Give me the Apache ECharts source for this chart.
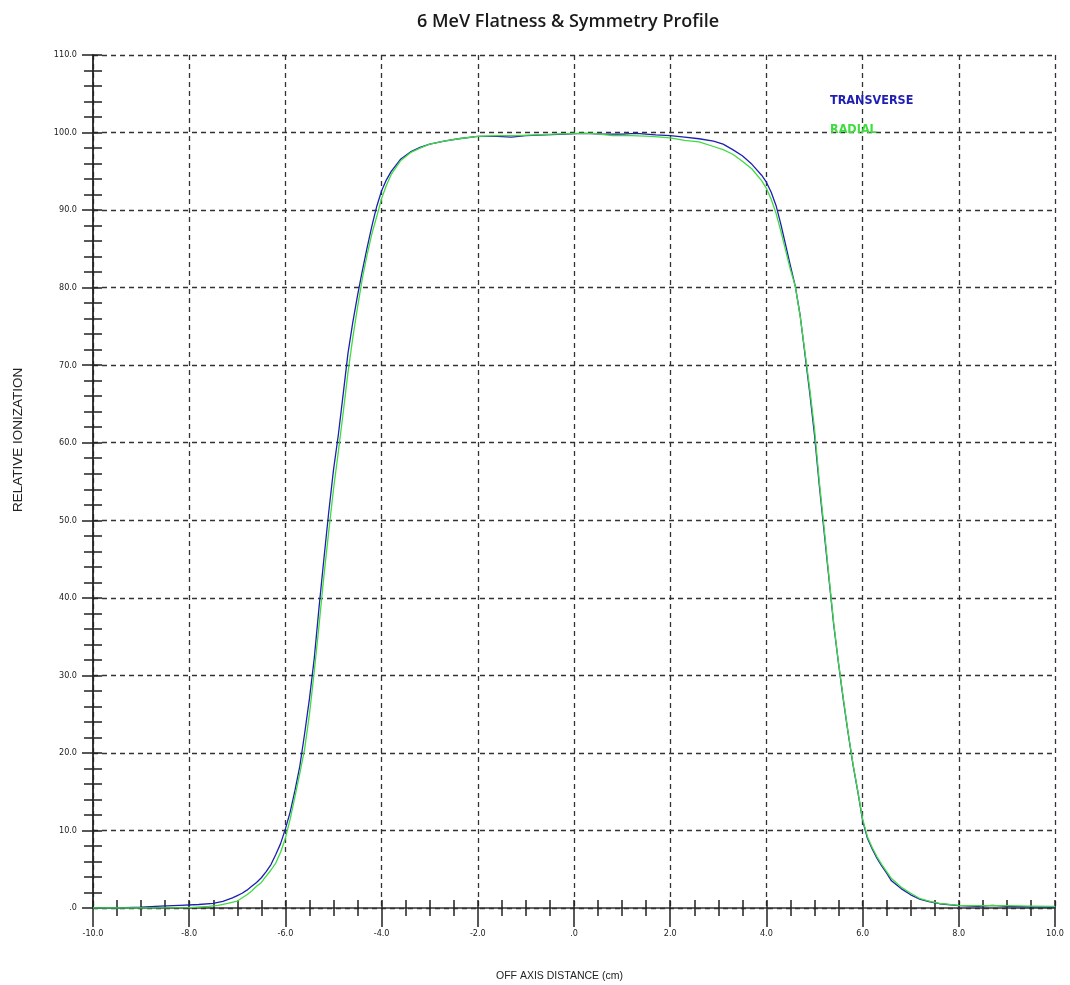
<!DOCTYPE html>
<html>
<head>
<meta charset="utf-8">
<script src="https://cdn.jsdelivr.net/npm/echarts@6/dist/echarts.min.js"></script>
<style>
html,body{margin:0;padding:0;background:#fff;}
#chart{width:1070px;height:985px;}
</style>
</head>
<body>
<div id="chart"></div>
<script>
// ---- Data ----
const chartTitle = '6 MeV Flatness & Symmetry Profile';
const xAxisTitle = 'OFF AXIS DISTANCE (cm)';
const yAxisTitle = 'RELATIVE IONIZATION';
const seriesNames = ['TRANSVERSE', 'RADIAL'];

const transverseX = [-10.0,-9.5,-9.0,-8.6,-8.2,-7.8,-7.5,-7.3,-7.1,-7.0,-6.9,-6.8,-6.7,-6.6,-6.5,-6.4,-6.3,-6.2,-6.1,-6.0,
  -5.9,-5.8,-5.7,-5.6,-5.5,-5.4,-5.3,-5.2,-5.1,-5.0,-4.9,-4.8,-4.7,-4.6,-4.5,-4.4,-4.3,-4.2,-4.1,-4.0,
  -3.9,-3.8,-3.6,-3.4,-3.2,-3.0,-2.7,-2.4,-2.0,-1.6,-1.3,-1.0,-0.6,-0.2,0.2,0.6,1.0,1.3,1.7,2.0,
  2.3,2.6,2.9,3.1,3.3,3.5,3.7,3.9,4.0,4.1,4.2,4.3,4.4,4.5,4.6,4.7,4.8,4.9,5.0,5.1,
  5.2,5.3,5.4,5.5,5.6,5.7,5.8,5.9,6.0,6.1,6.2,6.3,6.4,6.5,6.6,6.8,7.0,7.2,7.4,7.6,
  8.0,8.4,8.7,9.0,9.5,10.0];
const transverseY = [0.0,0.0,0.1,0.25,0.35,0.45,0.6,0.85,1.3,1.6,1.9,2.3,2.8,3.3,3.9,4.7,5.6,6.9,8.3,10.2,
  12.4,15.2,18.3,22.5,27.0,32.2,38.8,45.0,51.0,56.5,61.0,66.2,71.5,75.5,79.0,82.2,85.2,88.0,90.5,92.5,
  93.9,95.0,96.6,97.5,98.1,98.5,98.9,99.2,99.5,99.5,99.4,99.6,99.7,99.8,99.9,99.8,99.8,99.9,99.7,99.6,
  99.4,99.2,98.9,98.5,97.8,97.0,95.9,94.5,93.6,92.3,90.6,88.2,85.5,82.8,80.2,76.5,71.5,66.5,61.0,54.5,
  48.5,42.5,36.5,31.5,26.8,22.5,18.5,15.0,11.3,9.0,7.6,6.4,5.4,4.5,3.5,2.5,1.7,1.1,0.8,0.55,
  0.3,0.2,0.35,0.2,0.15,0.1];

const radialX = [-10.0,-9.0,-8.0,-7.6,-7.4,-7.2,-7.0,-6.8,-6.7,-6.6,-6.5,-6.4,-6.3,-6.2,-6.1,-6.0,
  -5.9,-5.8,-5.7,-5.6,-5.5,-5.4,-5.3,-5.2,-5.1,-5.0,-4.9,-4.8,-4.7,-4.6,-4.5,-4.4,-4.3,-4.2,-4.1,-4.0,
  -3.9,-3.8,-3.6,-3.4,-3.2,-3.0,-2.7,-2.4,-2.0,-1.6,-1.2,-0.8,-0.4,0.0,0.4,0.8,1.2,1.6,2.0,
  2.3,2.6,2.9,3.1,3.3,3.5,3.7,3.9,4.0,4.1,4.2,4.3,4.4,4.5,4.6,4.7,4.8,4.9,5.0,5.1,
  5.2,5.3,5.4,5.5,5.6,5.7,5.8,5.9,6.0,6.1,6.2,6.3,6.4,6.5,6.6,6.8,7.0,7.2,7.4,7.6,
  8.0,8.5,9.0,9.5,10.0];
const radialY = [0.0,0.0,0.05,0.2,0.35,0.6,0.9,1.7,2.2,2.8,3.3,4.1,4.9,5.8,7.2,9.0,
  11.5,14.4,17.4,20.5,25.0,30.5,36.5,42.8,48.5,54.0,58.8,63.8,69.0,73.5,77.5,81.2,84.3,87.0,89.2,91.5,
  93.2,94.6,96.4,97.4,98.0,98.5,98.9,99.2,99.5,99.6,99.6,99.7,99.8,99.9,99.9,99.6,99.6,99.5,99.3,
  99.0,98.8,98.2,97.8,97.2,96.3,95.3,93.8,92.8,91.4,89.6,87.3,84.8,82.3,80.2,76.4,71.8,67.0,61.8,55.0,
  49.0,42.8,36.7,31.6,27.0,22.6,18.6,15.1,11.5,9.2,7.8,6.6,5.6,4.7,3.8,2.7,1.9,1.2,0.85,0.6,
  0.35,0.3,0.3,0.25,0.2];

const xMin = -10, xMax = 10, xMajor = 2, xMinor = 0.5;
const yMin = 0, yMax = 110, yMajor = 10, yMinorStep = 2;

// ---- Chart ----
const pair = (xs, ys) => xs.map((x, i) => [x, ys[i]]);
const fmt = v => (v === 0 ? '.0' : v.toFixed(1));
const labelFont = "'Liberation Sans Narrow','DejaVu Sans Condensed','Liberation Sans',Arial,sans-serif";
const axisColor = '#222';

const chart = echarts.init(document.getElementById('chart'), null, {renderer: 'canvas'});
const option = {
  backgroundColor: '#fff',
  animation: false,
  title: {
    text: chartTitle,
    left: 412,
    top: 8,
    textStyle: {fontFamily: "'Open Sans','Noto Sans',sans-serif", fontSize: 18, fontWeight: 600, color: '#1a1a1a'}
  },
  legend: {
    orient: 'vertical',
    left: 820,
    top: 89,
    itemWidth: 0,
    itemHeight: 0,
    itemGap: 16,
    icon: 'rect',
    selectedMode: false,
    textStyle: {fontFamily: "'DejaVu Sans Condensed','Liberation Sans',Arial,sans-serif", fontSize: 12.5, fontWeight: 'bold'},
    data: [
      {name: seriesNames[0], textStyle: {color: '#1e1eb4'}},
      {name: seriesNames[1], textStyle: {color: '#3fdc3f'}}
    ]
  },
  grid: {left: 93, right: 15, top: 55, bottom: 77, containLabel: false},
  xAxis: [
    {
      type: 'value', min: xMin, max: xMax, interval: xMajor, position: 'bottom',
      axisLine: {show: true, onZero: false, lineStyle: {color: '#333', width: 1.5}},
      axisTick: {show: true, inside: false, length: 19, lineStyle: {color: axisColor, width: 1.5}},
      axisLabel: {formatter: fmt, margin: 21, fontSize: 9, fontFamily: labelFont, color: '#222'},
      splitLine: {show: true, lineStyle: {color: '#333', width: 1.3, type: [5, 4]}}
    },
    {
      type: 'value', min: xMin, max: xMax, interval: xMinor, position: 'bottom',
      axisLine: {show: false, onZero: false},
      axisTick: {show: true, inside: true, length: 8, lineStyle: {color: axisColor, width: 1.5}},
      axisLabel: {show: false}, splitLine: {show: false}
    },
    {
      type: 'value', min: xMin, max: xMax, interval: xMinor, position: 'bottom',
      axisLine: {show: false, onZero: false},
      axisTick: {show: true, inside: false, length: 8, lineStyle: {color: axisColor, width: 1.5}},
      axisLabel: {show: false}, splitLine: {show: false}
    }
  ],
  yAxis: [
    {
      type: 'value', min: yMin, max: yMax, interval: yMajor, position: 'left',
      axisLine: {show: true, onZero: false, lineStyle: {color: '#222', width: 1.8}},
      axisTick: {show: true, inside: false, length: 11, lineStyle: {color: axisColor, width: 1.5}},
      axisLabel: {formatter: fmt, margin: 16, fontSize: 9, fontFamily: labelFont, color: '#222'},
      splitLine: {show: true, lineStyle: {color: '#333', width: 1.3, type: [5, 4]}}
    },
    {
      type: 'value', min: yMin, max: yMax, interval: yMinorStep, position: 'left',
      axisLine: {show: false, onZero: false},
      axisTick: {show: true, inside: true, length: 9, lineStyle: {color: axisColor, width: 1.5}},
      axisLabel: {show: false}, splitLine: {show: false}
    },
    {
      type: 'value', min: yMin, max: yMax, interval: yMinorStep, position: 'left',
      axisLine: {show: false, onZero: false},
      axisTick: {show: true, inside: false, length: 9, lineStyle: {color: axisColor, width: 1.5}},
      axisLabel: {show: false}, splitLine: {show: false}
    }
  ],
  graphic: [
    {
      type: 'text', left: 496, top: 971,
      style: {text: xAxisTitle, fontSize: 10.5, fontFamily: "'Liberation Sans',Arial,sans-serif", fill: '#222'}
    },
    {
      type: 'text', x: 11, y: 512, rotation: Math.PI / 2,
      style: {text: yAxisTitle, fontSize: 13.5, fontFamily: "'Liberation Sans',Arial,sans-serif", fill: '#222'}
    }
  ],
  series: [
    {
      name: seriesNames[0], type: 'line', xAxisIndex: 0, yAxisIndex: 0,
      data: pair(transverseX, transverseY), showSymbol: false, symbol: 'none',
      lineStyle: {color: '#1e1eb4', width: 1.3}, itemStyle: {color: '#1e1eb4'}, z: 3
    },
    {
      name: seriesNames[1], type: 'line', xAxisIndex: 0, yAxisIndex: 0,
      data: pair(radialX, radialY), showSymbol: false, symbol: 'none',
      lineStyle: {color: '#3fdc3f', width: 1.3}, itemStyle: {color: '#3fdc3f'}, z: 4
    }
  ]
};
chart.setOption(option);
</script>
</body>
</html>
